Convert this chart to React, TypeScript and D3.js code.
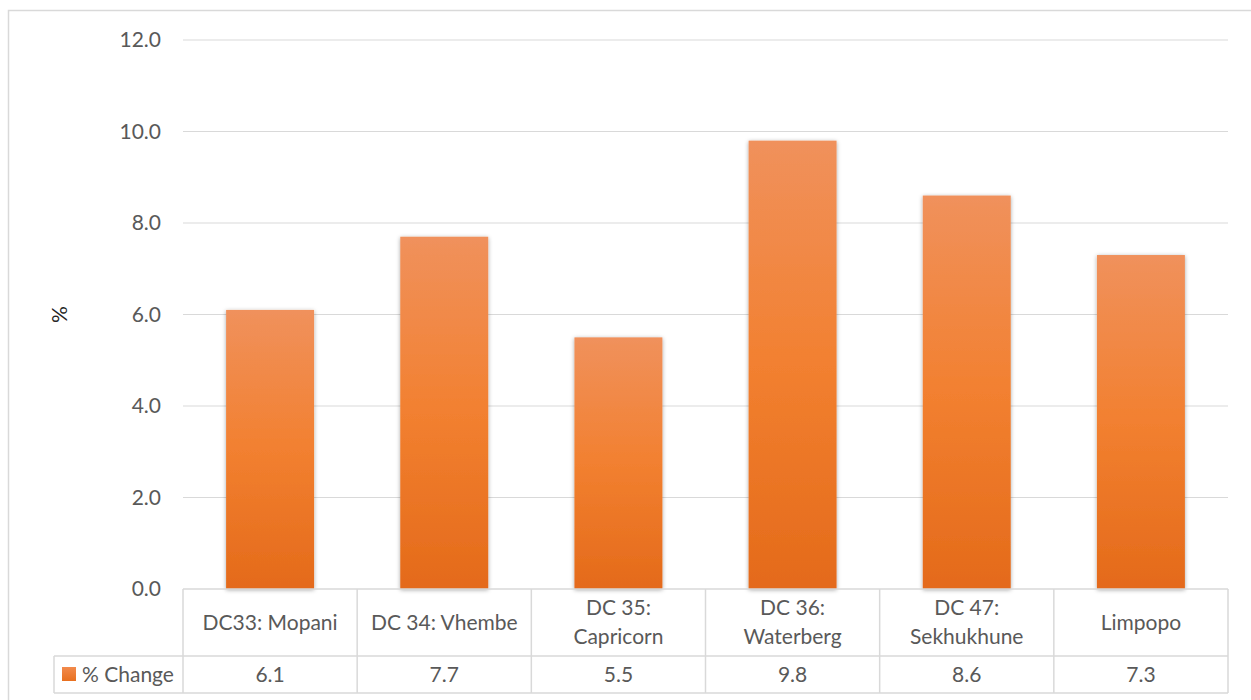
import * as d3 from 'd3';
import React from 'react';

const categories = ['DC33: Mopani', 'DC 34: Vhembe', 'DC 35: Capricorn', 'DC 36: Waterberg', 'DC 47: Sekhukhune', 'Limpopo'];
const values = [6.1, 7.7, 5.5, 9.8, 8.6, 7.3];
const seriesName = '% Change';
const yTicks = [0, 2, 4, 6, 8, 10, 12];
const yTitle = '%';

const W = 1251;
const H = 700;
const margin = { top: 40, right: 23, left: 183 };
const plotBottom = 589;
const headerBottom = 656;
const tableBottom = 693;
const legendLeft = 54;

const font = 'Lato, "Open Sans", sans-serif';
const fs = 21;
const textColor = '#595959';
const lineColor = '#d9d9d9';

// long labels break after the colon, like Excel does in the data table
const splitLabel = (s: string) => (s.length > 13 && s.includes(': ') ? [s.slice(0, s.indexOf(':') + 1), s.slice(s.indexOf(':') + 2)] : [s]);

export default function App() {
  const x = d3.scaleBand<string>().domain(categories).range([margin.left, W - margin.right]).paddingInner(0).paddingOuter(0);
  const y = d3.scaleLinear().domain([0, 12]).range([plotBottom, margin.top]);
  const bw = x.bandwidth();
  const barW = bw * 0.505;
  const fmt = d3.format('.1f');

  return (
    <svg width={W} height={H} style={{ position: 'absolute', left: 0, top: 0, background: '#fff' }} fontFamily={font}>
      <defs>
        <linearGradient id="barGrad" x1="0" y1="0" x2="0" y2="1">
          <stop offset="0%" stopColor="#f0915c" />
          <stop offset="50%" stopColor="#f28030" />
          <stop offset="100%" stopColor="#e46a1a" />
        </linearGradient>
        <linearGradient id="keyGrad" x1="0" y1="0" x2="0" y2="1">
          <stop offset="0%" stopColor="#f28a4c" />
          <stop offset="100%" stopColor="#e8701f" />
        </linearGradient>
        <filter id="shadow" x="-20%" y="-5%" width="140%" height="110%">
          <feDropShadow dx="0" dy="1" stdDeviation="2.2" floodColor="#000" floodOpacity="0.35" />
        </filter>
      </defs>

      <rect x={8.5} y={10.5} width={W} height={H} fill="none" stroke={lineColor} strokeWidth={1.5} />

      {yTicks.map(t => (
        <g key={t}>
          {t > 0 && <line x1={margin.left} x2={W - margin.right} y1={y(t)} y2={y(t)} stroke={lineColor} strokeWidth={1.2} />}
          <text x={161} y={y(t)} dy="0.35em" textAnchor="end" fontSize={fs} fill={textColor}>{fmt(t)}</text>
        </g>
      ))}

      <text transform={`translate(60,${(margin.top + plotBottom) / 2}) rotate(-90)`} textAnchor="middle" dy="0.35em" fontSize={fs} fill="#262626">{yTitle}</text>

      {categories.map((c, i) => (
        <rect key={c} x={x(c)! + (bw - barW) / 2} y={y(values[i])} width={barW} height={plotBottom - y(values[i])} fill="url(#barGrad)" filter="url(#shadow)" />
      ))}

      {/* data table */}
      <g stroke={lineColor} strokeWidth={1.5} fill="none">
        <line x1={margin.left} x2={W - margin.right} y1={plotBottom} y2={plotBottom} />
        <line x1={legendLeft} x2={W - margin.right} y1={headerBottom} y2={headerBottom} />
        <line x1={legendLeft} x2={W - margin.right} y1={tableBottom} y2={tableBottom} />
        <line x1={legendLeft} x2={legendLeft} y1={headerBottom} y2={tableBottom} />
        {categories.map(c => (
          <line key={c} x1={x(c)!} x2={x(c)!} y1={plotBottom} y2={tableBottom} />
        ))}
        <line x1={W - margin.right} x2={W - margin.right} y1={plotBottom} y2={tableBottom} />
      </g>

      {categories.map((c, i) => {
        const lines = splitLabel(c);
        const cx = x(c)! + bw / 2;
        const cy = (plotBottom + headerBottom) / 2;
        return (
          <g key={c}>
            <text x={cx} y={cy - ((lines.length - 1) * 29) / 2} textAnchor="middle" fontSize={fs} fill={textColor}>
              {lines.map((l, j) => (
                <tspan key={j} x={cx} dy={j === 0 ? '0.35em' : 29}>{l}</tspan>
              ))}
            </text>
            <text x={cx} y={(headerBottom + tableBottom) / 2} dy="0.35em" textAnchor="middle" fontSize={fs} fill={textColor}>{fmt(values[i])}</text>
          </g>
        );
      })}

      <rect x={62} y={667} width={14} height={14} fill="url(#keyGrad)" />
      <text x={82} y={(headerBottom + tableBottom) / 2} dy="0.35em" fontSize={fs} fill={textColor}>{seriesName}</text>
    </svg>
  );
}
